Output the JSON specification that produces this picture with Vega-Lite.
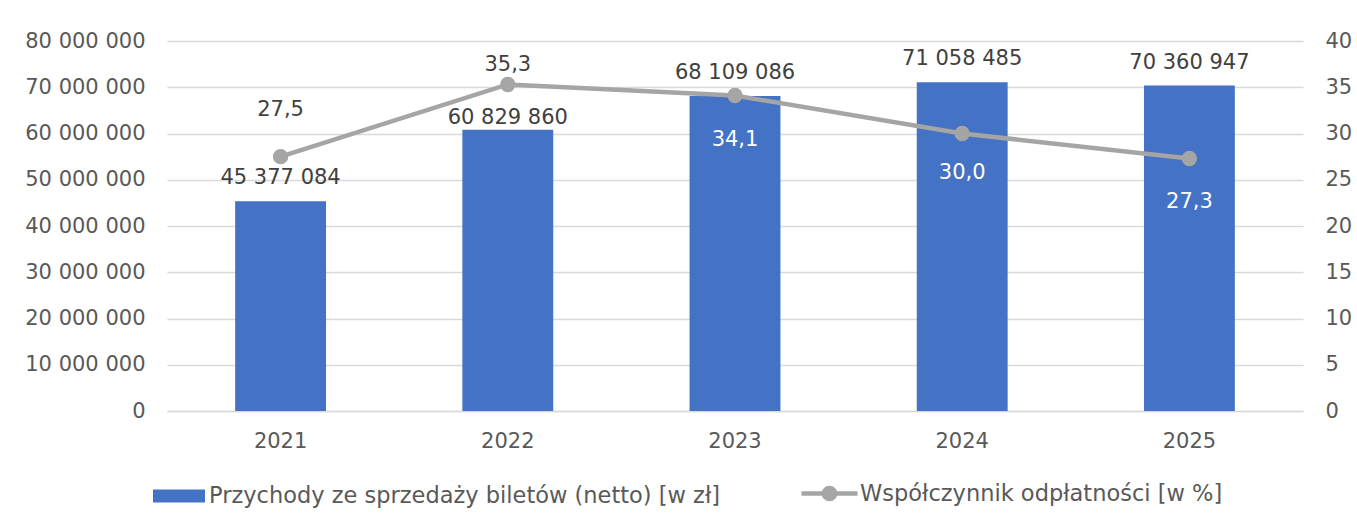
{
  "$schema": "https://vega.github.io/schema/vega-lite/v6.json",
  "width": 1136,
  "height": 370,
  "autosize": {"type": "none"},
  "padding": {"left": 167, "top": 41, "right": 54, "bottom": 113},
  "background": "#ffffff",
  "config": {
    "locale": {"number": {"decimal": ",", "thousands": " ", "grouping": [3], "currency": ["", ""]}},
    "font": "DejaVu Sans",
    "view": {"stroke": null},
    "axis": {"labelFont": "DejaVu Sans", "labelFontSize": 21, "labelColor": "#595959", "ticks": false, "title": null, "domain": false, "grid": false},
    "legend": {"labelFont": "DejaVu Sans", "labelFontSize": 22.5, "labelColor": "#595959", "padding": 0, "labelOffset": 4, "labelLimit": 0, "title": null}
  },
  "data": {
    "values": [
      {"rok": "2021", "przychody": 45377084, "wsp": 27.5},
      {"rok": "2022", "przychody": 60829860, "wsp": 35.3},
      {"rok": "2023", "przychody": 68109086, "wsp": 34.1},
      {"rok": "2024", "przychody": 71058485, "wsp": 30.0},
      {"rok": "2025", "przychody": 70360947, "wsp": 27.3}
    ]
  },
  "encoding": {
    "x": {
      "field": "rok",
      "type": "ordinal",
      "scale": {"paddingInner": 0.6, "paddingOuter": 0.3},
      "axis": {"labelAngle": 0, "domain": true, "domainColor": "#D9D9D9", "domainWidth": 1.5, "labelPadding": 19}
    }
  },
  "layer": [
    {
      "encoding": {
        "y": {
          "field": "przychody",
          "type": "quantitative",
          "scale": {"domain": [0, 80000000]},
          "axis": {"orient": "left", "values": [0, 10000000, 20000000, 30000000, 40000000, 50000000, 60000000, 70000000, 80000000], "format": ",d", "grid": true, "gridColor": "#D9D9D9", "gridWidth": 1.3, "labelPadding": 22}
        }
      },
      "layer": [
        {
          "mark": {"type": "bar", "color": "#4472C4"},
          "encoding": {
            "fill": {
              "datum": "Przychody ze sprzedaży biletów (netto) [w zł]",
              "scale": {"range": ["#4472C4"]},
              "legend": {"orient": "none", "legendX": -14, "legendY": 429, "symbolType": "M-1,-0.25H1V0.25H-1Z", "symbolSize": 2704, "symbolStrokeWidth": 0}
            }
          }
        },
        {
          "transform": [{"filter": "datum.rok != '2022'"}],
          "mark": {"type": "text", "baseline": "alphabetic", "dy": -17, "color": "#404040", "fontSize": 21},
          "encoding": {"text": {"field": "przychody", "type": "quantitative", "format": ",d"}}
        },
        {
          "transform": [{"filter": "datum.rok == '2022'"}],
          "mark": {"type": "text", "baseline": "alphabetic", "dy": -6, "color": "#404040", "fontSize": 21},
          "encoding": {"text": {"field": "przychody", "type": "quantitative", "format": ",d"}}
        }
      ]
    },
    {
      "encoding": {
        "y": {
          "field": "wsp",
          "type": "quantitative",
          "scale": {"domain": [0, 40]},
          "axis": {"orient": "right", "values": [0, 5, 10, 15, 20, 25, 30, 35, 40], "format": "d", "labelPadding": 22}
        }
      },
      "layer": [
        {
          "mark": {"type": "line", "strokeWidth": 4.5, "point": {"filled": true, "size": 180, "color": "#A5A5A5"}},
          "encoding": {
            "stroke": {
              "datum": "Współczynnik odpłatności [w %]",
              "scale": {"range": ["#A5A5A5"]},
              "legend": {
                "orient": "none", "legendX": 632, "legendY": 422, "labelOffset": 0,
                "symbolType": "M-1,0H1M-0.2,0A0.2,0.2 0 1,1 0.2,0A0.2,0.2 0 1,1 -0.2,0Z",
                "symbolSize": 3136, "symbolStrokeWidth": 4.5, "symbolFillColor": "#A5A5A5",
                "encode": {"symbols": {"update": {"fill": {"value": "#A5A5A5"}, "strokeWidth": {"value": 4.5}}}}
              }
            }
          }
        },
        {
          "transform": [{"filter": "datum.rok == '2021'"}],
          "mark": {"type": "text", "baseline": "alphabetic", "dy": -41, "color": "#404040", "fontSize": 21},
          "encoding": {"text": {"field": "wsp", "type": "quantitative", "format": ".1f"}}
        },
        {
          "transform": [{"filter": "datum.rok == '2022'"}],
          "mark": {"type": "text", "baseline": "alphabetic", "dy": -13, "color": "#404040", "fontSize": 21},
          "encoding": {"text": {"field": "wsp", "type": "quantitative", "format": ".1f"}}
        },
        {
          "transform": [{"filter": "datum.rok == '2023' || datum.rok == '2025'"}],
          "mark": {"type": "text", "baseline": "alphabetic", "dy": 50, "color": "#ffffff", "fontSize": 21},
          "encoding": {"text": {"field": "wsp", "type": "quantitative", "format": ".1f"}}
        },
        {
          "transform": [{"filter": "datum.rok == '2024'"}],
          "mark": {"type": "text", "baseline": "alphabetic", "dy": 45, "color": "#ffffff", "fontSize": 21},
          "encoding": {"text": {"field": "wsp", "type": "quantitative", "format": ".1f"}}
        }
      ]
    }
  ],
  "resolve": {"scale": {"y": "independent"}}
}
